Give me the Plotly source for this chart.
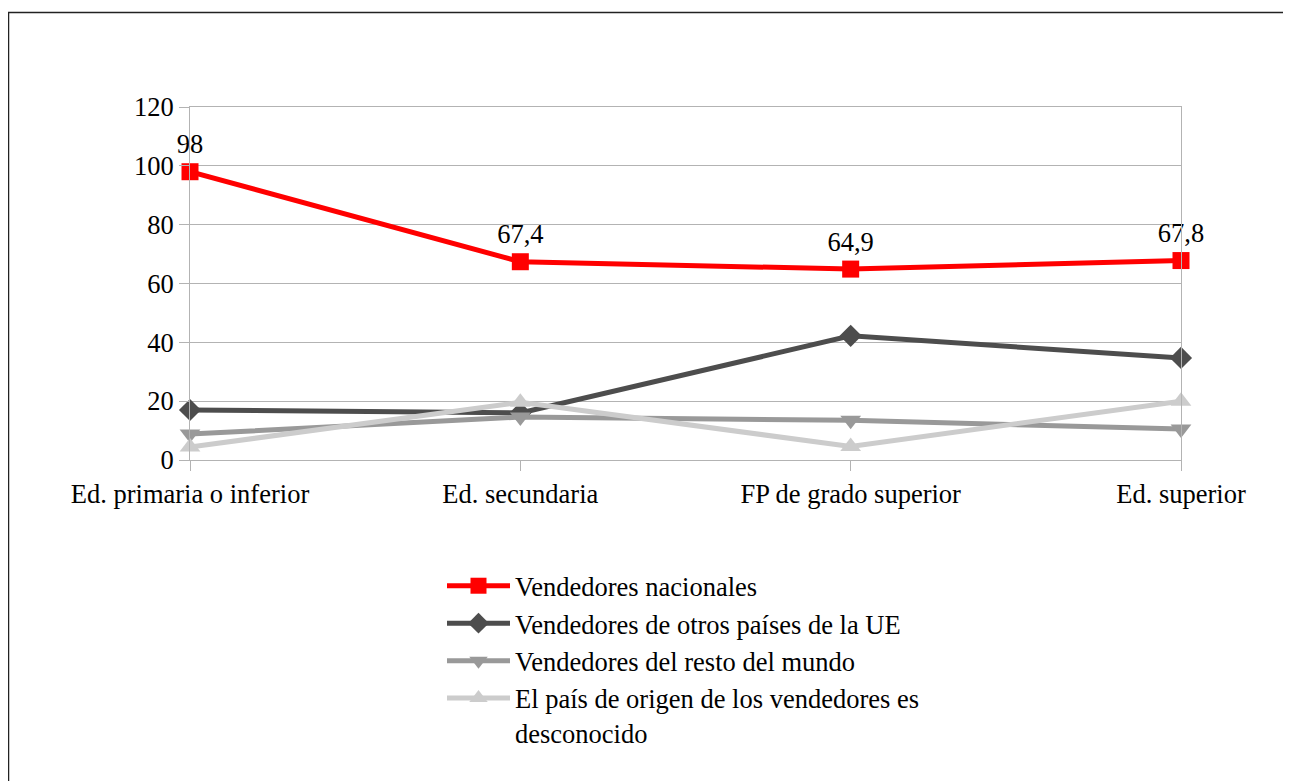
import plotly.graph_objects as go

categories = ["Ed. primaria o inferior", "Ed. secundaria", "FP de grado superior", "Ed. superior"]
nacionales = [98, 67.4, 64.9, 67.8]
otros_ue = [17.0, 16.0, 42.2, 34.7]
resto_mundo = [8.8, 14.6, 13.5, 10.5]
desconocido = [4.4, 19.6, 4.6, 20.0]
series_names = [
    "Vendedores nacionales",
    "Vendedores de otros países de la UE",
    "Vendedores del resto del mundo",
    "El país de origen de los vendedores es<br>desconocido",
]
y_ticks = [0, 20, 40, 60, 80, 100, 120]

FONT = "Liberation Serif"
FS = 26.5
OFF = 8  # page body margin
W, H = 1291 - OFF, 781 - OFF
L, R, T, B = 190 - OFF, 110, 107 - OFF, 321
pw, ph = W - L - R, H - T - B

def px_x(px):
    return (px - OFF - L) / pw

def px_y(py):
    return (H - B - (py - OFF)) / ph

fig = go.Figure()

fig.add_trace(go.Scatter(
    x=categories, y=nacionales, name=series_names[0], mode="lines+markers+text",
    line=dict(color="#ff0000", width=5),
    marker=dict(symbol="square", size=17, color="#ff0000"),
    text=[("%g" % v).replace(".", ",") for v in nacionales],
    textposition="top center", textfont=dict(family=FONT, size=FS, color="#000000"),
    cliponaxis=False,
))
fig.add_trace(go.Scatter(
    x=categories, y=otros_ue, name=series_names[1], mode="lines+markers",
    line=dict(color="#4d4d4d", width=5),
    marker=dict(symbol="diamond", size=17, color="#4d4d4d"),
    cliponaxis=False,
))
fig.add_trace(go.Scatter(
    x=categories, y=resto_mundo, name=series_names[2], mode="lines+markers",
    line=dict(color="#999999", width=5),
    marker=dict(symbol="triangle-down", size=18, color="#999999"),
    cliponaxis=False,
))
fig.add_trace(go.Scatter(
    x=categories, y=desconocido, name=series_names[3], mode="lines+markers",
    line=dict(color="#cccccc", width=5),
    marker=dict(symbol="triangle-up", size=18, color="#cccccc"),
    cliponaxis=False,
))

fig.add_shape(
    type="rect", xref="paper", yref="paper",
    x0=px_x(8.5), x1=px_x(1320), y0=px_y(12.5), y1=px_y(820),
    line=dict(color="#222222", width=1.5), layer="below",
)

fig.update_layout(
    width=W, height=H,
    margin=dict(l=L, r=R, t=T, b=B, pad=0),
    paper_bgcolor="white", plot_bgcolor="white",
    font=dict(family=FONT, size=FS, color="#000000"),
    showlegend=True,
    legend=dict(
        x=px_x(442), y=px_y(562), xanchor="left", yanchor="top",
        itemwidth=63, valign="top", bgcolor="rgba(0,0,0,0)",
        font=dict(family=FONT, size=FS, color="#000000"),
        tracegroupgap=0,
    ),
    xaxis=dict(
        type="category", range=[0, 3], showgrid=False,
        showline=True, linecolor="#b3b3b3", linewidth=1, mirror=True,
        ticks="outside", ticklen=10, tickcolor="#b3b3b3",
        tickfont=dict(family=FONT, size=FS, color="#000000"),
        zeroline=False,
    ),
    yaxis=dict(
        range=[0, 120], tickvals=y_ticks, showgrid=True, gridcolor="#b3b3b3", gridwidth=1,
        showline=True, linecolor="#b3b3b3", linewidth=1, mirror=True,
        ticks="outside", ticklen=10, tickcolor="#b3b3b3",
        tickfont=dict(family=FONT, size=FS, color="#000000"),
        zeroline=False,
    ),
)

fig.write_html("out.html")
